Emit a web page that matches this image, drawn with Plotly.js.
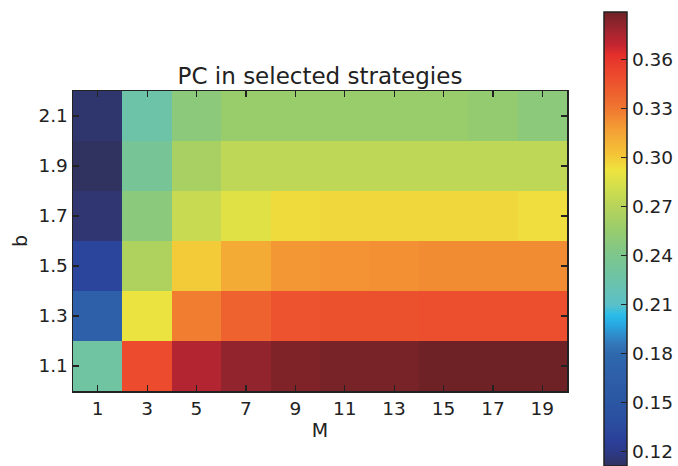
<!DOCTYPE html>
<html>
<head>
<meta charset="utf-8">
<script src="https://cdn.plot.ly/plotly-3.0.1.min.js"></script>
<style>html,body{margin:0;padding:0;background:#fff;}#chart{width:678px;height:466px;}</style>
</head>
<body>
<div id="chart"></div>
<script>
// M values (columns)
var mValues = [1, 3, 5, 7, 9, 11, 13, 15, 17, 19];
// b values (rows, bottom to top)
var bValues = [1.1, 1.3, 1.5, 1.7, 1.9, 2.1];
var bLabels = ['1.1', '1.3', '1.5', '1.7', '1.9', '2.1'];
// PC values per row (b), across M
var pcB11 = [0.228, 0.350, 0.373, 0.381, 0.385, 0.387, 0.387, 0.389, 0.389, 0.389];
var pcB13 = [0.167, 0.291, 0.328, 0.339, 0.346, 0.347, 0.347, 0.348, 0.348, 0.348];
var pcB15 = [0.131, 0.266, 0.300, 0.312, 0.320, 0.321, 0.322, 0.323, 0.323, 0.323];
var pcB17 = [0.115, 0.248, 0.277, 0.287, 0.295, 0.296, 0.296, 0.296, 0.296, 0.294];
var pcB19 = [0.111, 0.234, 0.263, 0.273, 0.273, 0.273, 0.273, 0.273, 0.273, 0.273];
var pcB21 = [0.114, 0.225, 0.249, 0.256, 0.256, 0.256, 0.256, 0.256, 0.253, 0.249];
var colorTicks = [0.12, 0.15, 0.18, 0.21, 0.24, 0.27, 0.30, 0.33, 0.36];

var z = [pcB11, pcB13, pcB15, pcB17, pcB19, pcB21];

var colorscale = [
  [0.000, '#30325f'], [0.031, '#2d3a88'], [0.057, '#2b409a'], [0.101, '#2b4fa0'],
  [0.139, '#2a56a2'], [0.189, '#2e5ea8'], [0.247, '#2e68ad'], [0.267, '#3276b8'],
  [0.289, '#2f8ccc'], [0.311, '#27a8e0'], [0.333, '#2bbde8'], [0.355, '#5bc0c8'],
  [0.410, '#6cc3a8'], [0.465, '#7ec68c'], [0.520, '#98cc6c'], [0.573, '#b8d45a'],
  [0.608, '#cedd4e'], [0.652, '#eee43e'], [0.685, '#f4c537'], [0.740, '#f4a035'],
  [0.784, '#f07a30'], [0.806, '#ee6a2f'], [0.861, '#ec4a2d'], [0.905, '#e5302b'],
  [0.927, '#c42530'], [0.960, '#a02530'], [1.000, '#6e2225']
];

var font = 'DejaVu Sans, sans-serif';
var ink = '#222222';

var trace = {
  type: 'heatmap',
  x: mValues,
  y: bValues,
  z: z,
  zmin: 0.111,
  zmax: 0.389,
  colorscale: colorscale,
  hoverinfo: 'x+y+z',
  colorbar: {
    x: 1.075, xanchor: 'left', xpad: 0,
    y: 1.2633, yanchor: 'top', ypad: 0,
    thickness: 23, thicknessmode: 'pixels',
    len: 454, lenmode: 'pixels',
    outlinewidth: 1.5, outlinecolor: ink,
    ticks: 'inside', ticklen: 6, tickwidth: 1.2, tickcolor: ink,
    tickvals: colorTicks, tickformat: '.2f',
    tickfont: {family: font, size: 18.5, color: ink}
  }
};

var layout = {
  width: 678, height: 466,
  margin: {l: 73, r: 111, t: 91, b: 75, autoexpand: false},
  paper_bgcolor: '#ffffff', plot_bgcolor: '#ffffff',
  title: {
    text: 'PC in selected strategies',
    font: {family: font, size: 23, color: ink},
    x: 0.5, xref: 'paper', xanchor: 'center',
    y: 1, yref: 'paper', yanchor: 'bottom', pad: {b: 7}
  },
  xaxis: {
    range: [0, 20], tickvals: mValues, ticktext: mValues.map(String),
    ticks: 'inside', ticklen: 6, tickwidth: 1.2, tickcolor: ink,
    showline: true, linecolor: ink, linewidth: 1.5, mirror: 'ticks',
    showgrid: false, zeroline: false,
    tickfont: {family: font, size: 18.5, color: ink},
    title: {text: 'M', font: {family: font, size: 19, color: ink}, standoff: 6}
  },
  yaxis: {
    range: [1.0, 2.2], tickvals: bValues, ticktext: bLabels,
    ticks: 'inside', ticklen: 6, tickwidth: 1.2, tickcolor: ink,
    showline: true, linecolor: ink, linewidth: 1.5, mirror: 'ticks',
    showgrid: false, zeroline: false,
    tickfont: {family: font, size: 18.5, color: ink},
    title: {text: 'b', font: {family: font, size: 19, color: ink}, standoff: 5}
  }
};

Plotly.newPlot('chart', [trace], layout, {displayModeBar: false, staticPlot: true});
</script>
</body>
</html>
